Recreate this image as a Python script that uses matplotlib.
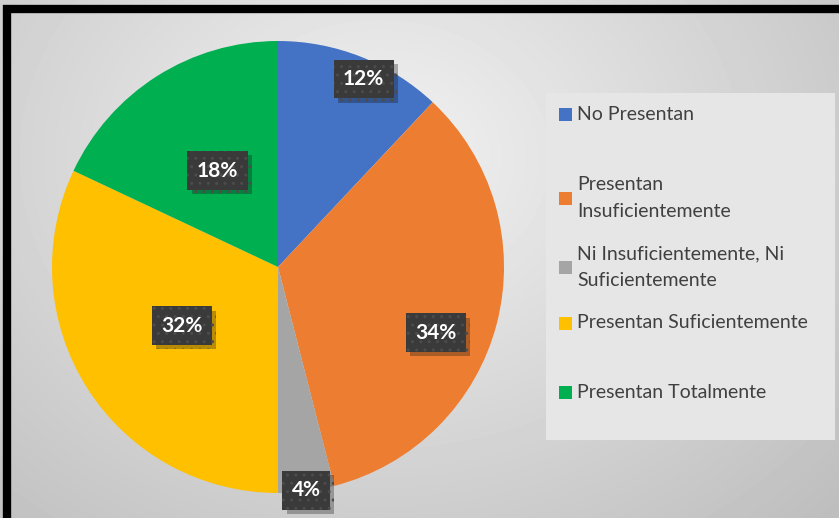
import numpy as np
import matplotlib.pyplot as plt
from matplotlib.patches import Rectangle
import matplotlib.patheffects as pe

# data
categories = ["No Presentan", "Presentan\nInsuficientemente",
              "Ni Insuficientemente, Ni\nSuficientemente",
              "Presentan Suficientemente", "Presentan Totalmente"]
values = [12, 34, 4, 32, 18]
colors = ["#4472c4", "#ed7d31", "#a5a5a5", "#ffc000", "#00b050"]

W, H = 839, 518
fig = plt.figure(figsize=(W / 100, H / 100), dpi=100)
ax = fig.add_axes([0, 0, 1, 1])

# background: radial grey gradient
yy, xx = np.mgrid[0:H, 0:W]
d = np.sqrt(((xx - 380) / 520.0) ** 2 + ((yy - 360) / 420.0) ** 2)
shade = 0.95 - 0.17 * np.clip(d, 0, 1.2)
ax.imshow(shade, cmap="gray", vmin=0, vmax=1, extent=[0, W, 0, H],
          origin="lower", zorder=0, interpolation="bilinear")

# black frame (only top and left are inside the picture)
ax.add_patch(Rectangle((7, -20), W + 20, H - 9 + 20, fill=False,
                       edgecolor="black", linewidth=6, zorder=1))

# pie
cx, cy, R = 278, H - 267, 226
wedges, _ = ax.pie(values, colors=colors, startangle=90, counterclock=False,
                   center=(cx, cy), radius=R, frame=True,
                   wedgeprops=dict(linewidth=0))
ax.set_xlim(0, W)
ax.set_ylim(0, H)
ax.set_aspect("equal")
ax.axis("off")
for w in wedges:
    w.set_zorder(2)

# data labels (dark dotted boxes)
lab_r = [0.91, 0.76, 1.0, 0.5, 0.5]
lab_shift = [-3, -8.5, 0, -0.5, 0]
for w, v, r, s in zip(wedges, values, lab_r, lab_shift):
    a = np.deg2rad((w.theta1 + w.theta2) / 2 + s)
    t = ax.text(cx + r * R * np.cos(a), cy + r * R * np.sin(a) + 1, f"{v}%",
                ha="center", va="center", color="white", fontsize=15,
                fontweight="bold", family="Lato", zorder=5,
                bbox=dict(boxstyle="square,pad=0.45", facecolor="#3a3a3a",
                          edgecolor="#4c4c4c", linewidth=0, hatch=".."))
    t.get_bbox_patch().set_path_effects(
        [pe.SimplePatchShadow(offset=(3, -3), alpha=0.3), pe.Normal()])

# legend
ax.add_patch(Rectangle((546, H - 440), 289, 347, facecolor="#e6e6e6",
                       edgecolor="none", zorder=3))
leg_y = [114, 198, 267, 323, 392]
for c, lab, y in zip(colors, categories, leg_y):
    ax.add_patch(Rectangle((559, H - y - 6.5), 13, 13, facecolor=c,
                           edgecolor="none", zorder=4))
    lines = lab.split("\n")
    for i, line in enumerate(lines):
        ax.text(577, H - y + 13.5 * (len(lines) - 1) - 27 * i, line,
                ha="left", va="center", fontsize=14, family="Lato",
                color="#404040", zorder=4)

fig.savefig("out.png", dpi=100)
